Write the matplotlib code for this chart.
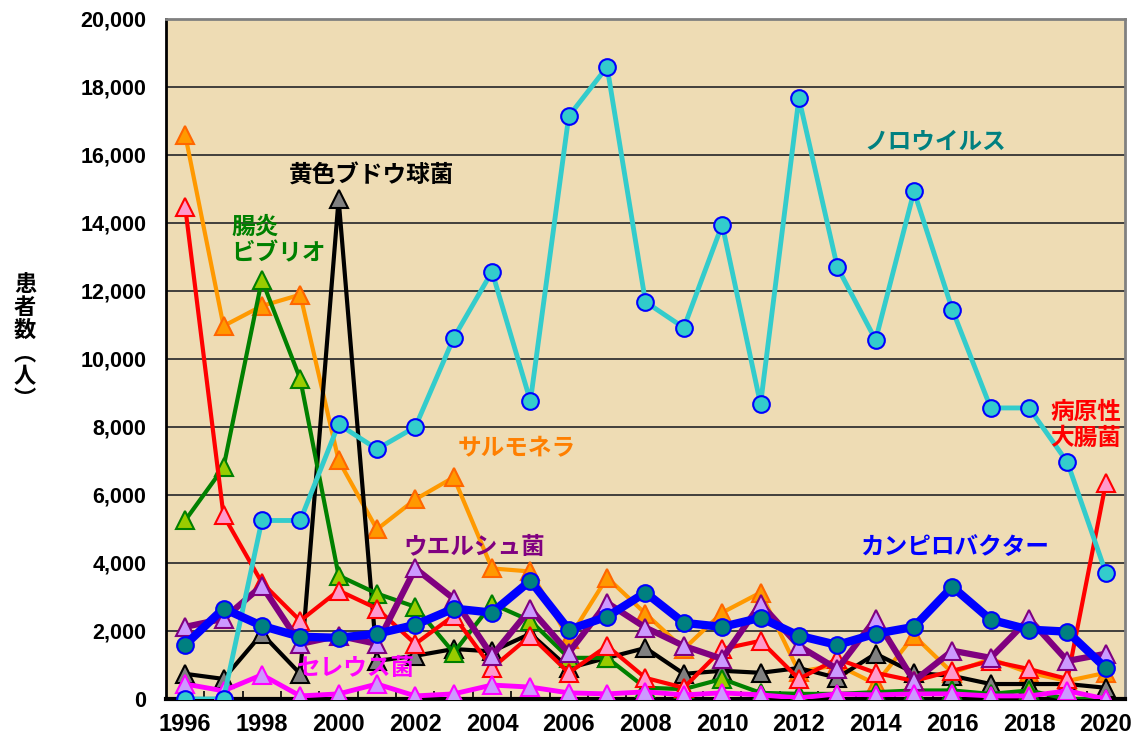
import numpy as np
import matplotlib.pyplot as plt
from matplotlib.ticker import FuncFormatter, MultipleLocator

plt.rcParams['font.family'] = ['Noto Sans CJK JP', 'DejaVu Sans']

# 年
years = list(range(1996, 2021))

# 患者数（人）
salmonella = [16600, 10970, 11560, 11890, 7020, 4990, 5870, 6520, 3840, 3750,
              1770, 3570, 2510, 1470, 2540, 3130, 800, 1000, 440, 1860,
              770, 1180, 770, 530, 770]
staph = [740, 590, 1920, 740, 14700, 1120, 1270, 1470, 1400, 1920,
         910, 1210, 1500, 740, 830, 770, 910, 620, 1330, 770,
         680, 440, 440, 440, 330]
vibrio = [5250, 6810, 12330, 9410, 3630, 3100, 2710, 1360, 2800, 2300,
          1210, 1210, 330, 290, 590, 180, 150, 150, 200, 250,
          250, 150, 250, 0, 0]
ehec = [14480, 5400, 3420, 2300, 3190, 2660, 1620, 2450, 910, 1860,
        770, 1560, 620, 330, 1470, 1710, 590, 1180, 770, 530,
        830, 1120, 880, 590, 6340]
welchii = [2120, 2360, 3330, 1620, 1860, 1620, 3840, 2950, 1270, 2650,
           1360, 2830, 2100, 1560, 1180, 2800, 1560, 880, 2360, 530,
           1420, 1210, 2360, 1120, 1330]
cereus = [440, 240, 710, 90, 150, 440, 90, 150, 410, 350,
          180, 150, 210, 120, 180, 120, 30, 150, 120, 150,
          150, 90, 90, 240, 0]
norovirus = [0, 0, 5250, 5250, 8080, 7350, 8000, 10620, 12570, 8760,
             17140, 18590, 11680, 10920, 13950, 8670, 17670, 12710, 10560, 14930,
             11450, 8560, 8560, 6960, 3720]
campylo = [1590, 2660, 2150, 1830, 1800, 1920, 2180, 2660, 2540, 3480,
           2040, 2420, 3130, 2240, 2120, 2390, 1860, 1590, 1920, 2120,
           3300, 2330, 2040, 1980, 910]

fig = plt.figure(figsize=(11.4, 7.44), dpi=100)
ax = fig.add_axes([0.1456, 0.0605, 0.8412, 0.914])
ax.set_facecolor('#EEDCB4')

# (データ, 線色, 線幅, マーカー, 面色, 縁色, サイズ)
series = [
    (salmonella, '#FF9900', 3, '^', '#FF9900', '#FF6600', 13),
    (staph, '#000000', 3, '^', '#808080', '#000000', 13),
    (vibrio, '#008000', 3, '^', '#99CC00', '#008000', 13),
    (ehec, '#FF0000', 3, '^', '#FF99CC', '#FF0000', 13),
    (welchii, '#800080', 4.5, '^', '#CC99FF', '#800080', 13),
    (cereus, '#FF00FF', 3.5, '^', '#CC99FF', '#FF00FF', 13),
    (norovirus, '#33CCCC', 3.5, 'o', '#33CCCC', '#0000FF', 12),
    (campylo, '#0000FF', 6, 'o', '#008080', '#0000FF', 12),
]
for data, lc, lw, mk, fc, ec, ms in series:
    ax.plot(years, data, color=lc, lw=lw, marker=mk, markersize=ms,
            markerfacecolor=fc, markeredgecolor=ec, markeredgewidth=1.5, zorder=3)

ax.set_xlim(1995.5, 2020.5)
ax.set_ylim(0, 20000)
ax.yaxis.set_major_locator(MultipleLocator(2000))
ax.yaxis.set_major_formatter(FuncFormatter(lambda v, p: f'{int(v):,}'))
ax.set_xticks(range(1996, 2021, 2))
ax.set_xticks(np.arange(1996.5, 2020.5, 1), minor=True)
ax.grid(axis='y', color='#333333', lw=1.3, zorder=1)
ax.tick_params(axis='y', length=0, pad=14, labelsize=15.5)
ax.tick_params(axis='x', which='major', length=0, pad=10, labelsize=17)
ax.tick_params(axis='x', which='minor', direction='in', length=6, width=1.2)
for lab in ax.get_xticklabels() + ax.get_yticklabels():
    lab.set_fontweight('bold')
    lab.set_family(['Liberation Sans', 'DejaVu Sans'])

ax.spines['left'].set_linewidth(2)
ax.spines['bottom'].set_linewidth(3)
for s in ['top', 'right']:
    ax.spines[s].set_color('#808080')
    ax.spines[s].set_linewidth(2)

fig.text(0.022, 0.54, '患\n者\n数\n︵\n人\n︶', fontsize=16, fontweight='bold',
         ha='center', va='center', linespacing=1.0)

labels = [
    ('ノロウイルス', 2013.7, 16400, '#008080', 'left'),
    ('黄色ブドウ球菌', 1998.7, 15400, '#000000', 'left'),
    ('腸炎\nビブリオ', 1997.2, 13500, '#008000', 'left'),
    ('サルモネラ', 2003.1, 7400, '#FF7F00', 'left'),
    ('ウエルシュ菌', 2001.7, 4480, '#800080', 'left'),
    ('カンピロバクター', 2013.6, 4480, '#0000FF', 'left'),
    ('病原性\n大腸菌', 2020.4, 8050, '#FF0000', 'right'),
    ('セレウス菌', 1998.9, 900, '#FF00FF', 'left'),
]
for txt, x, y, c, ha in labels:
    ax.text(x, y, txt, color=c, fontsize=17, fontweight='bold', ha=ha,
            va='center', linespacing=1.1, zorder=4)

fig.savefig('out.png', dpi=100)
